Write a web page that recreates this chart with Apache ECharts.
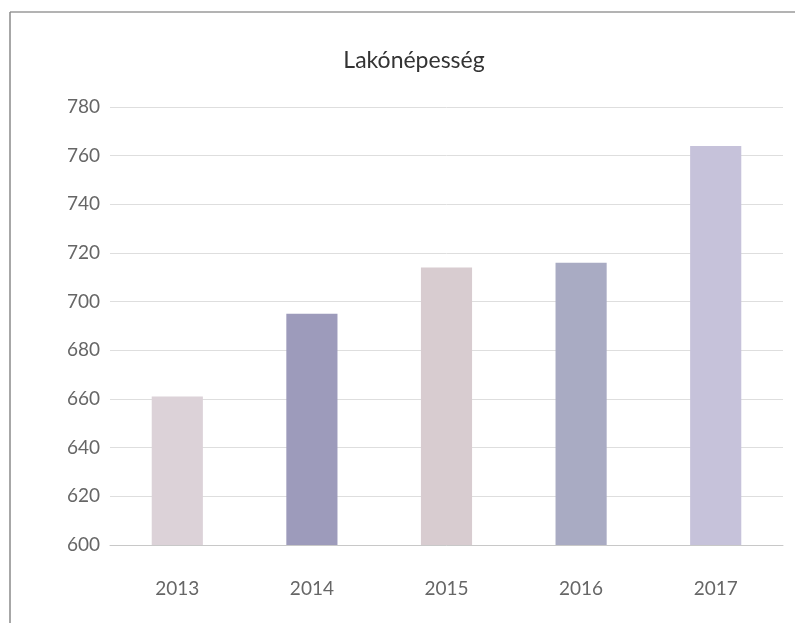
<!DOCTYPE html>
<html>
<head>
<meta charset="utf-8">
<script src="https://cdn.jsdelivr.net/npm/echarts@6/dist/echarts.min.js"></script>
<style>
html,body{margin:0;padding:0;background:#fff;}
#main{width:805px;height:623px;}
</style>
</head>
<body>
<div id="main"></div>
<script>
var titleText = 'Lakónépesség';
var categories = ['2013', '2014', '2015', '2016', '2017'];
var values = [661, 695, 714, 716, 764];
var barColors = ['#dcd2d8', '#9d9bbb', '#d8ccd0', '#a9abc3', '#c6c2da'];
var yTicks = [600, 620, 640, 660, 680, 700, 720, 740, 760, 780];

var chart = echarts.init(document.getElementById('main'));
chart.setOption({
  backgroundColor: '#ffffff',
  animation: false,
  graphic: [
    { type: 'line', shape: { x1: 10, y1: 12, x2: 795, y2: 12 }, style: { stroke: '#9a9a9a', lineWidth: 1.5 } },
    { type: 'line', shape: { x1: 10, y1: 12, x2: 10, y2: 623 }, style: { stroke: '#8a8a8a', lineWidth: 1.5 } }
  ],
  title: {
    text: titleText,
    left: 409,
    top: 44,
    textAlign: 'center',
    textStyle: { fontFamily: 'Lato', fontSize: 23, fontWeight: 'normal', color: '#333' }
  },
  grid: { left: 110, right: 22, top: 107, bottom: 78 },
  xAxis: {
    type: 'category',
    data: categories,
    axisLine: { show: true, lineStyle: { color: '#c8c8c8', width: 1 } },
    axisTick: { show: false },
    axisLabel: { margin: 34, fontFamily: 'Lato', fontSize: 19, color: '#666' }
  },
  yAxis: {
    type: 'value',
    min: yTicks[0],
    max: yTicks[yTicks.length - 1],
    interval: 20,
    axisLine: { show: false },
    axisTick: { show: false },
    splitLine: { lineStyle: { color: '#dedede', width: 1 } },
    axisLabel: { margin: 10, fontFamily: 'Lato', fontSize: 19, color: '#666' }
  },
  series: [{
    type: 'bar',
    barWidth: '38%',
    data: values.map(function (v, i) {
      return { value: v, itemStyle: { color: barColors[i] } };
    })
  }]
});
</script>
</body>
</html>
